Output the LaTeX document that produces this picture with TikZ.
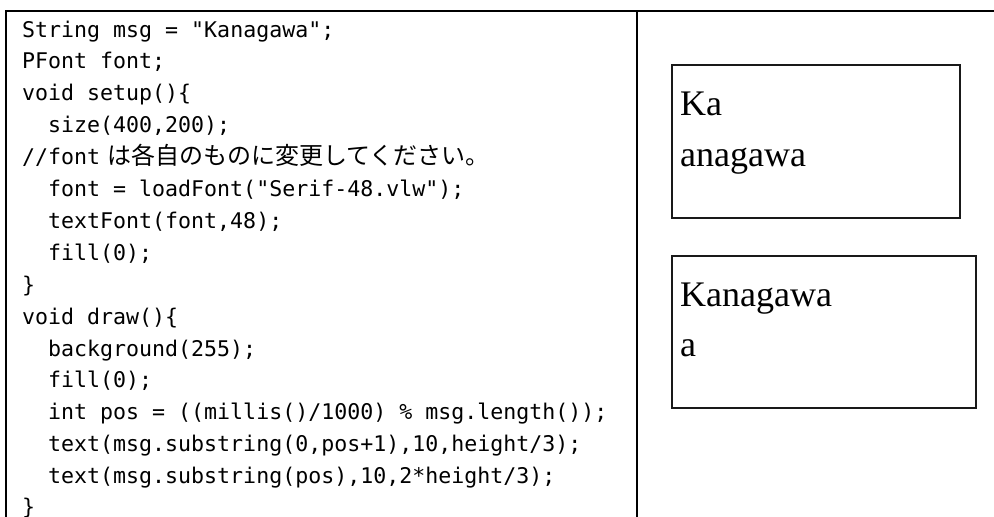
\documentclass[tikz,border=0pt]{standalone}
\usepackage{fontspec}
\setmainfont{Liberation Serif}
\setmonofont{DejaVu Sans Mono}
\newfontfamily\jpfont{Noto Sans CJK JP}
\usetikzlibrary{positioning}

\tikzset{
  codeline/.style={anchor=base west, inner sep=0pt, font=\ttfamily\fontsize{21.6}{26}\selectfont},
  frameline/.style={line width=2.5pt},
  sketchbox/.style={draw, line width=1.8pt, black!90, anchor=north west, inner sep=0pt},
  shown/.style={anchor=base west, inner sep=0pt, font=\fontsize{36}{40}\selectfont},
}

\begin{document}
\begin{tikzpicture}[x=1pt,y=-1pt]
  \useasboundingbox (0,0) rectangle (994,517);
  % frame of the table
  \coordinate (fbl) at (6,517);
  \coordinate (ftl) at (6,11);
  \coordinate (ftr) at (994,11);
  \coordinate (mtop) at (637,11);
  \coordinate (mbot) at (637,517);
  \draw[frameline] (fbl) -- (ftl) -- (ftr);
  \draw[frameline] (mtop) -- (mbot);

  % program
  \node[codeline] (l1)  at (22,37)    {String msg = "Kanagawa";};
  \node[codeline] (l2)  at (22,68.9)  {PFont font;};
  \node[codeline] (l3)  at (22,100.8) {void setup()\{};
  \node[codeline] (l4)  at (48,132.7) {size(400,200);};
  \node[codeline] (l5)  at (22,164.6) {//font\hspace{7pt}{\jpfont\fontsize{24}{28}\selectfont は各自のものに変更してください。}};
  \node[codeline] (l6)  at (48,196.5) {font = loadFont("Serif-48.vlw");};
  \node[codeline] (l7)  at (48,228.4) {textFont(font,48);};
  \node[codeline] (l8)  at (48,260.3) {fill(0);};
  \node[codeline] (l9)  at (22,292.2) {\}};
  \node[codeline] (l10) at (22,324.1) {void draw()\{};
  \node[codeline] (l11) at (48,356)   {background(255);};
  \node[codeline] (l12) at (48,387.9) {fill(0);};
  \node[codeline] (l13) at (48,419.8) {int pos = ((millis()/1000) \% msg.length());};
  \node[codeline] (l14) at (48,451.7) {text(msg.substring(0,pos+1),10,height/3);};
  \node[codeline] (l15) at (48,483.6) {text(msg.substring(pos),10,2*height/3);};
  \node[codeline] (l16) at (22,514)   {\}};

  % output windows
  \node[sketchbox, minimum width=288pt, minimum height=153pt] (win1) at (671,64) {};
  \node[sketchbox, minimum width=304pt, minimum height=152pt] (win2) at (671,255) {};
  \node[shown] (w1a) at (680,115) {Ka};
  \node[shown] (w1b) at (680,166) {anagawa};
  \node[shown] (w2a) at (680,306) {Kanagawa};
  \node[shown] (w2b) at (680,356) {a};
\end{tikzpicture}
\end{document}
